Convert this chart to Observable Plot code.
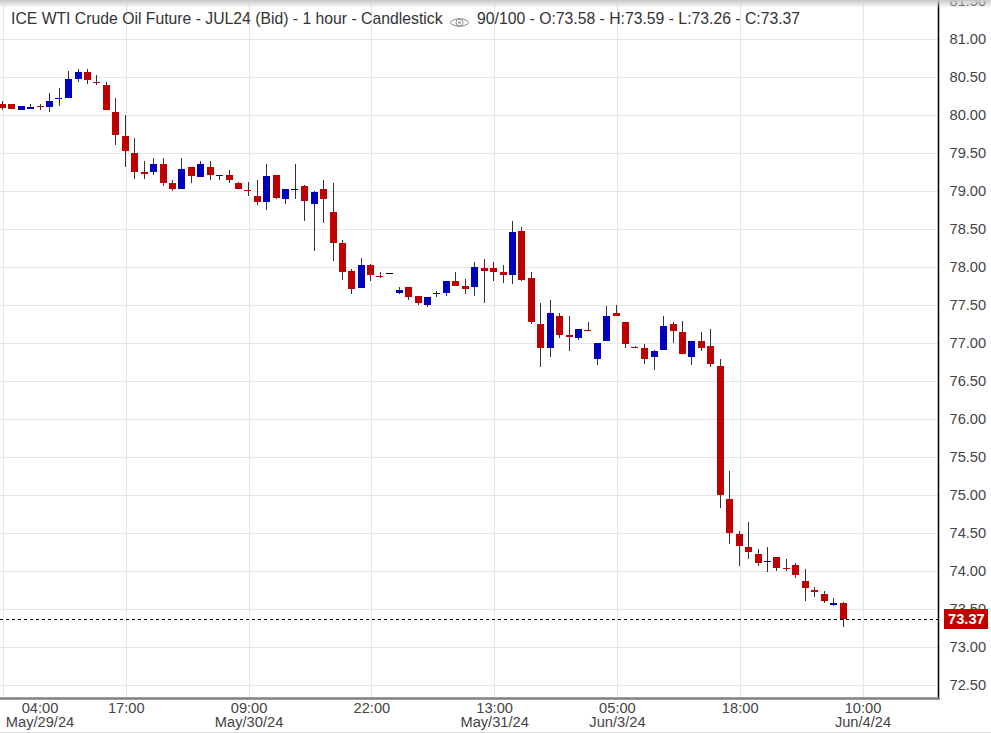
<!DOCTYPE html>
<html>
<head>
<meta charset="utf-8">
<style>
html,body{margin:0;padding:0;background:#fff;overflow:hidden;width:991px;height:733px}
#wrap{position:relative;width:991px;height:733px;font-family:"Liberation Sans",Arial,sans-serif}
#wrap svg.plot{display:block}
#shade{position:absolute;left:0;top:0;width:991px;height:8px;background:linear-gradient(#c8c8c8,rgba(255,255,255,0))}
#foot{position:absolute;left:0;top:732px;width:991px;height:1px;background:#ddd}
#title{position:absolute;left:11px;top:10px;font-size:15.75px;line-height:18px;color:#333;white-space:nowrap}
#eye{position:absolute;left:449px;top:15px}
#stats{position:absolute;left:477px;top:10px;font-size:15.75px;line-height:18px;color:#333;white-space:nowrap}
</style>
<script src="https://cdn.jsdelivr.net/npm/d3@7"></script>
<script src="https://cdn.jsdelivr.net/npm/@observablehq/plot@0.6"></script>
</head>
<body>
<div id="wrap">
<div id="chart"></div>
<div id="shade"></div>
<div id="foot"></div>
<div id="title">ICE WTI Crude Oil Future - JUL24 (Bid) - 1 hour - Candlestick</div>
<svg id="eye" width="21" height="14" viewBox="0 0 21 14"><path d="M1 7.5C5 2.5 16 2.5 20 7.5C16 12.5 5 12.5 1 7.5Z" fill="none" stroke="#888"/><circle cx="10.5" cy="7.5" r="3.5" fill="none" stroke="#888"/><circle cx="10.5" cy="7.5" r="1.3" fill="#999"/></svg>
<div id="stats">90/100 - O:73.58 - H:73.59 - L:73.26 - C:73.37</div>
</div>
<script>
const opens = [80.15,80.15,80.07,80.08,80.12,80.10,80.22,80.23,80.48,80.56,80.44,80.39,80.04,79.72,79.50,79.25,79.25,79.36,79.11,79.02,79.31,79.19,79.32,79.20,79.21,79.11,79.02,78.94,78.85,79.21,78.89,79.03,79.06,78.83,79.02,78.73,78.31,77.95,77.73,78.03,77.89,77.92,77.66,77.74,77.62,77.50,77.64,77.66,77.81,77.75,77.74,77.99,77.99,77.93,77.89,78.48,77.85,77.25,76.93,77.35,77.11,77.07,77.18,76.79,77.03,77.40,77.27,76.96,76.93,76.82,76.91,77.25,77.14,76.81,77.03,76.96,76.70,74.95,74.49,74.31,74.22,74.12,74.18,74.04,74.08,73.87,73.75,73.70,73.55,73.58];
const closes = [80.09,80.08,80.12,80.11,80.10,80.19,80.23,80.48,80.56,80.46,80.43,80.06,79.74,79.52,79.25,79.23,79.35,79.10,79.02,79.29,79.20,79.35,79.21,79.21,79.15,79.02,79.01,78.85,79.20,78.91,79.02,79.03,78.87,78.99,78.89,78.32,77.94,77.71,78.03,77.89,77.88,77.92,77.70,77.60,77.52,77.61,77.66,77.81,77.75,77.71,78.00,77.95,77.93,77.90,78.46,77.83,77.27,76.93,77.39,77.10,77.08,77.19,77.17,77.00,77.35,77.35,76.99,76.95,76.79,76.90,77.23,77.16,76.85,77.02,76.93,76.73,75.00,74.50,74.33,74.25,74.11,74.13,74.04,74.02,73.95,73.77,73.72,73.61,73.58,73.37];
const highs = [80.18,80.15,80.12,80.14,80.15,80.29,80.35,80.58,80.60,80.61,80.52,80.43,80.23,80.00,79.70,79.39,79.43,79.43,79.14,79.44,79.32,79.40,79.39,79.21,79.27,79.12,79.12,79.15,79.35,79.21,79.02,79.35,79.08,79.00,79.14,79.11,78.36,77.98,78.12,78.04,77.93,77.92,77.74,77.74,77.62,77.61,77.69,77.81,77.93,77.84,78.06,78.10,78.06,78.02,78.61,78.52,77.93,77.53,77.57,77.40,77.36,77.19,77.28,77.00,77.49,77.50,77.27,76.96,76.99,76.91,77.35,77.27,77.29,77.02,77.14,77.18,76.79,75.32,74.53,74.65,74.29,74.32,74.19,74.16,74.10,74.03,73.79,73.74,73.65,73.59];
const lows = [80.07,80.08,80.06,80.08,80.06,80.04,80.12,80.23,80.43,80.41,80.39,80.06,79.60,79.31,79.16,79.16,79.21,79.06,79.00,79.02,79.10,79.18,79.14,79.14,79.10,79.02,78.94,78.81,78.75,78.89,78.83,78.89,78.60,78.21,78.58,78.08,77.83,77.64,77.73,77.82,77.85,77.92,77.64,77.56,77.50,77.47,77.61,77.62,77.75,77.65,77.62,77.53,77.81,77.79,77.77,77.81,77.25,76.68,76.81,77.07,76.89,77.04,77.17,76.71,77.03,77.35,76.93,76.93,76.73,76.64,76.91,77.00,76.85,76.71,76.90,76.68,74.83,74.35,74.07,74.16,74.07,73.99,74.00,74.00,73.91,73.61,73.66,73.58,73.54,73.26];

const priceTicks = [72.5,73,73.5,74,74.5,75,75.5,76,76.5,77,77.5,78,78.5,79,79.5,80,80.5,81,81.5];
const timeTicks = [0,13,26,39,52,65,78,91];
const timeLabels = ["04:00\nMay/29/24","17:00","09:00\nMay/30/24","22:00","13:00\nMay/31/24","05:00\nJun/3/24","18:00","10:00\nJun/4/24"];
const lastPrice = 73.37;

const RED = "#bf0000", BLUE = "#0000bf", BLACK = "#000000";
const labelOf = i => timeLabels[timeTicks.indexOf(i)];
const candles = opens.map((open, i) => ({
  i, open, close: closes[i], high: highs[i], low: lows[i],
  color: closes[i] > open ? BLUE : closes[i] < open ? RED : BLACK
}));
const isThin = d => Math.abs(d.open - d.close) < 0.015;
const font = '"Liberation Sans",Arial,sans-serif';

const chart = Plot.plot({
  width: 991, height: 733,
  marginTop: 0, marginLeft: 0, marginRight: 53, marginBottom: 35,
  style: {fontFamily: font, fontSize: "14.67px", background: "#fff", color: "#444"},
  x: {domain: [0, 91], range: [2, 861.5], axis: null},
  y: {domain: [81.5, 72.5], range: [1, 685], axis: null},
  color: {type: "identity"},
  marks: [
    Plot.gridY(priceTicks, {stroke: "#e6e6e6", strokeOpacity: 1, shapeRendering: "crispEdges"}),
    Plot.gridX(timeTicks, {dx: 1, stroke: "#e6e6e6", strokeOpacity: 1, shapeRendering: "crispEdges"}),
    Plot.ruleY([lastPrice], {stroke: "#000", strokeWidth: 1, strokeDasharray: "3 3", shapeRendering: "crispEdges"}),
    Plot.ruleX(candles, {x: "i", y1: "low", y2: "high", stroke: "#333", strokeWidth: 1, shapeRendering: "crispEdges"}),
    Plot.ruleX(candles.filter(d => !isThin(d)), {x: "i", y1: "open", y2: "close", stroke: "color", strokeWidth: 7, shapeRendering: "crispEdges"}),
    Plot.ruleY(candles.filter(isThin), {y: "close", x1: d => d.i - 0.37, x2: d => d.i + 0.37, stroke: "color", strokeWidth: 1, shapeRendering: "crispEdges"}),
    Plot.frame({anchor: "right", stroke: "#000", strokeWidth: 1.5}),
    Plot.frame({anchor: "bottom", stroke: "#808080", strokeWidth: 2.5}),
    Plot.axisY({anchor: "right", ticks: priceTicks, tickFormat: d3.format(".2f"), tickSize: 0, tickPadding: 11, fontSize: 14.67, fill: "#444", label: null}),
    Plot.axisX({anchor: "bottom", ticks: timeTicks.slice(1), tickFormat: labelOf, tickSize: 0, tickPadding: 5, dx: 1, fontSize: 14.67, fill: "#444", lineHeight: 0.95, label: null}),
    Plot.axisX({anchor: "bottom", ticks: timeTicks.slice(0, 1), tickFormat: labelOf, tickSize: 0, tickPadding: 5, dx: 37.5, fontSize: 14.67, fill: "#444", lineHeight: 0.95, label: null}),
    Plot.ruleY([lastPrice], {x1: 99.73, x2: 104.39, stroke: RED, strokeWidth: 20, shapeRendering: "crispEdges"}),
    Plot.text([lastPrice], {y: d => d, x: 102.05, text: d => d.toFixed(2), fill: "#fff", fontWeight: "bold", fontSize: 14.67})
  ]
});
document.getElementById("chart").appendChild(chart);
</script>
</body>
</html>
